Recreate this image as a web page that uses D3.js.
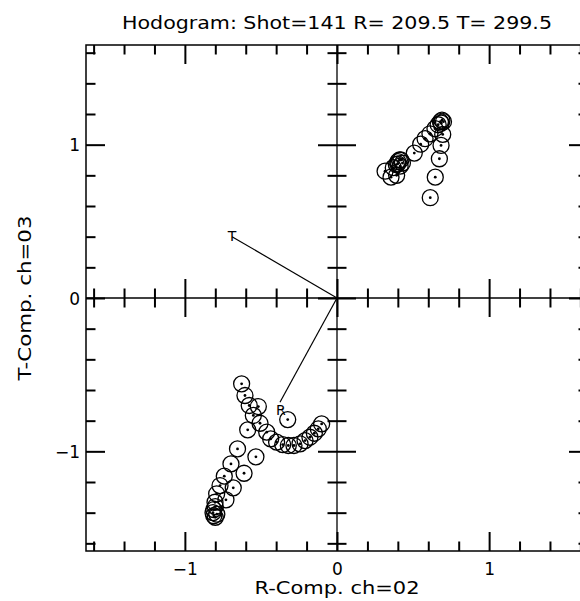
<!DOCTYPE html>
<html><head><meta charset="utf-8">
<script src="https://cdn.jsdelivr.net/npm/d3@7"></script>
<style>
body{margin:0;background:#fff;}
svg{display:block;font-family:"DejaVu Sans","Liberation Sans",sans-serif;}
</style></head>
<body><svg id="c" width="580" height="601"></svg>
<script>
// ---- data ----
const titleText = "Hodogram: Shot=141 R= 209.5 T= 299.5";
const xTitle = "R-Comp. ch=02";
const yTitle = "T-Comp. ch=03";
const majorTicks = [-1, 0, 1];
const majorTickLabels = ["\u22121", "0", "1"];
const minorTicks = [-1.6,-1.4,-1.2,-0.8,-0.6,-0.4,-0.2,0.2,0.4,0.6,0.8,1.2,1.4,1.6];

// upper-right group of samples
const upperX = [0.316,0.355,0.392,0.37,0.39,0.40,0.41,0.42,0.43,0.415,0.40,0.508,0.55,0.579,0.611,0.644,0.665,0.68,0.69,0.70,0.685,0.695,0.684,0.673,0.646,0.613];
const upperY = [0.827,0.788,0.80,0.85,0.87,0.89,0.90,0.90,0.88,0.86,0.875,0.945,1.003,1.039,1.071,1.104,1.13,1.15,1.16,1.15,1.14,1.067,0.995,0.908,0.788,0.654];

// lower-left group of samples
const lowerX = [-0.81,-0.815,-0.81,-0.80,-0.79,-0.80,-0.802,-0.791,-0.769,-0.741,-0.697,-0.654,-0.587,-0.550,-0.577,-0.605,-0.627,
                -0.730,-0.682,-0.611,-0.533,-0.506,-0.517,-0.462,-0.436,-0.397,-0.357,-0.320,-0.283,-0.243,-0.210,-0.178,-0.149,-0.123,-0.101,-0.324];
const lowerY = [-1.38,-1.40,-1.42,-1.43,-1.41,-1.36,-1.332,-1.277,-1.223,-1.162,-1.082,-0.984,-0.860,-0.766,-0.701,-0.636,-0.560,
                -1.316,-1.238,-1.143,-1.036,-0.817,-0.708,-0.875,-0.919,-0.940,-0.956,-0.962,-0.962,-0.951,-0.930,-0.908,-0.882,-0.853,-0.821,-0.793];

// rotation vectors
const vecLabels = ["T", "R"];
const vecX = [-0.69, -0.375];
const vecY = [0.40, -0.68];

// ---- drawing ----
const svg = d3.select("#c");
const x = d3.scaleLinear().domain([-1.65, 1.65]).range([86, 588]);
const y = d3.scaleLinear().domain([-1.65, 1.65]).range([551, 45]);

const ink = "#000";
const fsz = 17;

function styleAxis(g){
  g.select(".domain").remove();
  g.selectAll(".tick line").attr("stroke", ink).attr("stroke-width", 2);
}

// frame
svg.append("rect").attr("x", x(-1.65)).attr("y", y(1.65))
  .attr("width", x(1.65) - x(-1.65)).attr("height", y(-1.65) - y(1.65))
  .attr("fill", "none").attr("stroke", ink).attr("stroke-width", 1.5);

// bottom frame
svg.append("g").attr("transform", `translate(0,${y(-1.65)})`)
  .call(d3.axisBottom(x).tickValues(minorTicks).tickSize(-9.5).tickFormat(""))
  .call(styleAxis);
const bMaj = svg.append("g").attr("transform", `translate(0,${y(-1.65)})`)
  .call(d3.axisBottom(x).tickValues(majorTicks).tickSize(-19).tickFormat((d,i)=>majorTickLabels[i]))
  .call(styleAxis);
bMaj.selectAll(".tick text").attr("y", 24).attr("dy", 0)
  .attr("font-size", fsz).attr("font-family", "DejaVu Sans").attr("fill", ink);

// top frame
svg.append("g").attr("transform", `translate(0,${y(1.65)})`)
  .call(d3.axisTop(x).tickValues(minorTicks).tickSize(-9.5).tickFormat("")).call(styleAxis);
svg.append("g").attr("transform", `translate(0,${y(1.65)})`)
  .call(d3.axisTop(x).tickValues(majorTicks).tickSize(-19).tickFormat("")).call(styleAxis);

// left frame
svg.append("g").attr("transform", `translate(${x(-1.65)},0)`)
  .call(d3.axisLeft(y).tickValues(minorTicks).tickSize(-9.5).tickFormat("")).call(styleAxis);
const lMaj = svg.append("g").attr("transform", `translate(${x(-1.65)},0)`)
  .call(d3.axisLeft(y).tickValues(majorTicks).tickSize(-19).tickFormat((d,i)=>majorTickLabels[i]))
  .call(styleAxis);
lMaj.selectAll(".tick text").attr("x", -6).attr("dy", "0.36em")
  .attr("font-size", fsz).attr("font-family", "DejaVu Sans").attr("fill", ink);

// right frame
svg.append("g").attr("transform", `translate(${x(1.65)},0)`)
  .call(d3.axisRight(y).tickValues(minorTicks).tickSize(-9.5).tickFormat("")).call(styleAxis);
svg.append("g").attr("transform", `translate(${x(1.65)},0)`)
  .call(d3.axisRight(y).tickValues(majorTicks).tickSize(-19).tickFormat("")).call(styleAxis);

// central axes
svg.append("line").attr("x1", x(-1.65)).attr("x2", x(1.65)).attr("y1", y(0)).attr("y2", y(0))
  .attr("stroke", ink).attr("stroke-width", 1.3);
svg.append("line").attr("x1", x(0)).attr("x2", x(0)).attr("y1", y(1.65)).attr("y2", y(-1.65))
  .attr("stroke", ink).attr("stroke-width", 1.3);

function centerTicks(axisFn, scaleTicks, half, horizontal){
  const g = svg.append("g")
    .attr("transform", horizontal ? `translate(0,${y(0)})` : `translate(${x(0)},0)`)
    .call(axisFn.tickValues(scaleTicks).tickSize(half).tickFormat(""))
    .call(styleAxis);
  if (horizontal) g.selectAll(".tick line").attr("y1", -half).attr("y2", half);
  else g.selectAll(".tick line").attr("x1", -half).attr("x2", half);
}
centerTicks(d3.axisBottom(x), minorTicks, 9.5, true);
centerTicks(d3.axisBottom(x), majorTicks, 19, true);
centerTicks(d3.axisLeft(y), minorTicks, 9.5, false);
centerTicks(d3.axisLeft(y), majorTicks, 19, false);

// vectors
const vecs = vecLabels.map((l,i)=>({l, x:vecX[i], y:vecY[i]}));
svg.append("g").selectAll("line").data(vecs).join("line")
  .attr("x1", x(0)).attr("y1", y(0)).attr("x2", d=>x(d.x)).attr("y2", d=>y(d.y))
  .attr("stroke", ink).attr("stroke-width", 1.2);
svg.append("g").selectAll("text").data(vecs).join("text")
  .attr("x", d=>x(d.x) + (d.l==="R"?1:0))
  .attr("y", d=>y(d.y) + (d.l==="R"?13:4))
  .attr("text-anchor", "middle").attr("font-size", 14)
  .attr("font-family", "DejaVu Sans").attr("fill", ink).text(d=>d.l);

// samples
const pts = upperX.map((v,i)=>({x:v, y:upperY[i]})).concat(lowerX.map((v,i)=>({x:v, y:lowerY[i]})));
const pg = svg.append("g");
pg.selectAll("circle.o").data(pts).join("circle").attr("class","o")
  .attr("cx", d=>x(d.x)).attr("cy", d=>y(d.y)).attr("r", 8)
  .attr("fill", "none").attr("stroke", ink).attr("stroke-width", 1.3);
pg.selectAll("circle.d").data(pts).join("circle").attr("class","d")
  .attr("cx", d=>x(d.x)).attr("cy", d=>y(d.y)).attr("r", 1.4).attr("fill", ink);

// titles
svg.append("text").attr("x", x(0)).attr("y", 29).attr("text-anchor", "middle")
  .attr("font-size", 18.5).attr("fill", ink)
  .attr("textLength", 430).attr("lengthAdjust", "spacingAndGlyphs").text(titleText);
svg.append("text").attr("x", x(0)).attr("y", 594).attr("text-anchor", "middle")
  .attr("font-size", 17).attr("fill", ink)
  .attr("textLength", 165).attr("lengthAdjust", "spacingAndGlyphs").text(xTitle);
svg.append("text").attr("transform", `translate(31,${y(0)}) rotate(-90)`).attr("text-anchor", "middle")
  .attr("font-size", 17).attr("fill", ink)
  .attr("textLength", 165).attr("lengthAdjust", "spacingAndGlyphs").text(yTitle);
</script></body></html>
